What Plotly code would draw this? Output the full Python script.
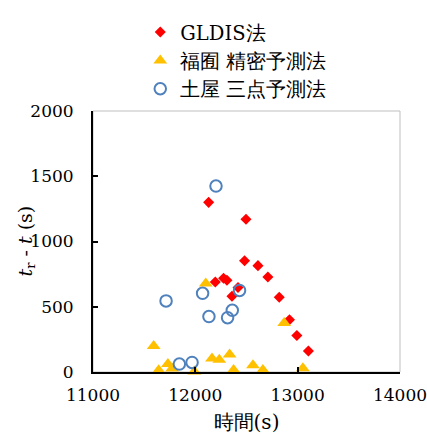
import plotly.graph_objects as go

# GLDIS法
gldis_x = [12130, 12195, 12276, 12309, 12358, 12417, 12481, 12495, 12612, 12709, 12820, 12920, 12992, 13105]
gldis_y = [1300, 690, 718, 703, 580, 648, 852, 1170, 815, 728, 573, 401, 279, 161]

# 福囿 精密予測法
fuku_x = [11593, 11642, 11732, 11773, 11860, 11990, 12163, 12234, 12335, 12374, 12449, 12563, 12660, 13051, 12102, 12868]
fuku_y = [200, 14, 61, 26, -6, 3, 104, 93, 134, 16, -6, 51, 16, 29, 679, 376]

# 土屋 三点予測法
tsu_x = [12202, 12071, 12432, 11714, 12133, 12315, 12361, 11844, 11968]
tsu_y = [1425, 603, 625, 545, 425, 416, 473, 61, 73]

series_names = ["GLDIS法", "福囿 精密予測法", "土屋 三点予測法"]
x_ticks = [11000, 12000, 13000, 14000]
y_ticks = [0, 500, 1000, 1500, 2000]
x_title = "時間(s)"
y_title = "<i>t</i><sub>r</sub> - <i>t</i> (s)"

FONT = "DejaVu Serif"

fig = go.Figure()
fig.add_trace(go.Scatter(x=gldis_x, y=gldis_y, mode="markers", name=series_names[0],
                         marker=dict(symbol="diamond", size=8.5, color="#FF0000"), cliponaxis=False))
fig.add_trace(go.Scatter(x=fuku_x, y=fuku_y, mode="markers", name=series_names[1],
                         marker=dict(symbol="triangle-up", size=12, color="#FFC000"), cliponaxis=False))
fig.add_trace(go.Scatter(x=tsu_x, y=tsu_y, mode="markers", name=series_names[2],
                         marker=dict(symbol="circle-open", size=11.5, color="#4F81BD", line=dict(width=2)),
                         cliponaxis=False))

fig.add_shape(type="rect", xref="paper", yref="paper", x0=0, x1=1, y0=0, y1=1,
              line=dict(color="#BFBFBF", width=1), layer="below")

fig.add_annotation(text=y_title, xref="paper", yref="paper", x=0, y=0.5,
                   xanchor="center", yanchor="middle", xshift=-67, textangle=-90,
                   showarrow=False, font=dict(family=FONT, size=19, color="black"))

fig.update_layout(
    width=427, height=434,
    margin=dict(l=92.5, r=27, t=105.5, b=61.5),
    paper_bgcolor="white", plot_bgcolor="white",
    font=dict(family=FONT, size=20, color="black"),
    showlegend=True,
    legend=dict(x=0.154, y=1.376, xanchor="left", yanchor="top",
                font=dict(family=FONT, size=19.5, color="black"),
                bgcolor="rgba(0,0,0,0)", tracegroupgap=0, itemwidth=30),
    xaxis=dict(range=[11000, 14000], tickvals=x_ticks, tickformat="d", ticks="inside", ticklen=5,
               tickwidth=1.5, tickcolor="black", showline=True, linecolor="black", linewidth=2,
               showgrid=False, zeroline=False, ticklabelstandoff=7, automargin=False,
               ticklabeloverflow="allow",
               tickfont=dict(family=FONT, size=17),
               title=dict(text=x_title, standoff=11, font=dict(family=FONT, size=20))),
    yaxis=dict(range=[0, 2000], tickvals=y_ticks, tickformat="d", ticks="inside", ticklen=5,
               tickwidth=1.5, tickcolor="black", showline=True, linecolor="black", linewidth=2,
               showgrid=False, zeroline=False, ticklabelstandoff=14, automargin=False,
               ticklabeloverflow="allow",
               tickfont=dict(family=FONT, size=17)),
)

fig.write_html("out.html")
